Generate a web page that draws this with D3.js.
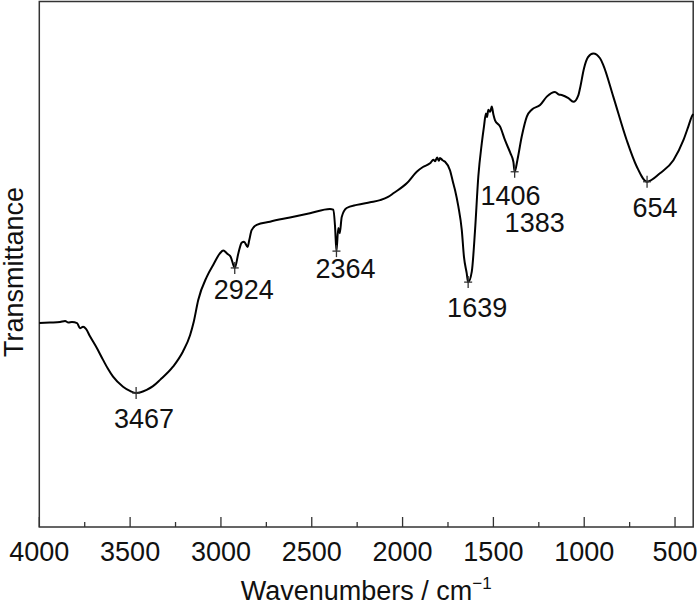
<!DOCTYPE html>
<html lang="en">
<head>
    <meta charset="UTF-8">
    <title>FTIR spectrum</title>
    <script src="https://cdn.jsdelivr.net/npm/d3@7"></script>
    <style>
        body {
            margin: 0;
            background: #fff;
        }

        svg text {
            font-family: "Liberation Sans", Arial, sans-serif;
            fill: #111;
        }

        .tick-label {
            font-size: 27px;
        }

        .peak-label {
            font-size: 27px;
        }

        .axis-title {
            font-size: 27px;
        }

        .frame {
            fill: none;
            stroke: #333;
            stroke-width: 1.5px;
        }

        .spectrum {
            fill: none;
            stroke: #000;
            stroke-width: 2px;
            stroke-linejoin: round;
        }

        .tick,
        .marker {
            stroke: #333;
            stroke-width: 1.3px;
        }
    </style>
</head>
<body>
<script>
    // spectrum (wavenumber / cm-1, transmittance a.u.)
    const wavenumbers = [
        4000, 3941, 3886, 3858, 3840, 3820, 3792, 3776, 3759, 3743, 3721, 3684, 3649, 3622, 3594,
        3539, 3501, 3467, 3409, 3374, 3335, 3264, 3209, 3170, 3150, 3125, 3078, 3042, 3005, 2987,
        2965, 2946, 2924, 2904, 2886, 2873, 2853, 2844, 2831, 2803, 2730, 2620, 2510, 2400, 2381,
        2372, 2364, 2354, 2346, 2335, 2308, 2252, 2179, 2124, 2080, 2051, 1977, 1922, 1888, 1849,
        1830, 1821, 1810, 1800, 1794, 1780, 1766, 1739, 1721, 1711, 1693, 1674, 1662, 1647, 1639,
        1619, 1601, 1583, 1564, 1552, 1541, 1535, 1528, 1518, 1509, 1500, 1491, 1463, 1436, 1406,
        1390, 1383, 1368, 1344, 1316, 1289, 1243, 1206, 1161, 1140, 1124, 1087, 1060, 1032, 1023,
        1001, 979, 950, 913, 895, 840, 766, 711, 654, 583, 509, 454, 427, 408, 400
    ];
    const transmittance = [
        38.8, 38.9, 39.0, 39.2, 38.9, 39.0, 38.8, 37.8, 38.1, 37.7, 36.3, 34.1, 31.8, 30.1, 28.6,
        26.7, 25.9, 25.5, 26.1, 26.8, 28.0, 30.5, 33.4, 36.5, 39.0, 43.2, 47.6, 49.9, 52.1, 52.6,
        52.0, 51.4, 49.3, 52.1, 54.1, 54.3, 53.3, 54.6, 56.5, 57.5, 58.1, 58.9, 59.7, 60.5, 60.4,
        57.3, 52.5, 56.9, 55.9, 59.0, 60.7, 61.3, 61.8, 62.2, 62.8, 63.5, 65.4, 67.6, 68.5, 69.2,
        69.9, 69.6, 70.3, 69.7, 70.2, 69.8, 69.5, 67.9, 65.4, 64.1, 61.0, 56.5, 51.4, 48.3, 46.6,
        48.6, 56.5, 66.7, 73.0, 76.2, 78.7, 78.0, 79.4, 79.0, 80.0, 78.5, 77.4, 76.2, 73.6, 71.1,
        69.5, 67.6, 69.8, 74.3, 78.1, 79.4, 80.3, 81.9, 82.8, 82.3, 82.2, 81.6, 80.9, 82.2, 83.5,
        87.3, 89.4, 90.1, 89.2, 87.9, 81.9, 73.6, 68.6, 65.7, 67.3, 69.8, 73.6, 76.2, 78.1, 78.6
    ];

    // labelled bands
    const peaks = [3467, 2924, 2364, 1639, 1406, 1383, 654];
    const peakMarked = [true, true, true, true, false, true, true];
    // label offset from the band point, px
    const peakLabelOffsets = [[8, 35], [9, 31], [9, 27], [9, 35], [0, 52], [20, 60], [8, 35]];

    const majorTicks = [4000, 3500, 3000, 2500, 2000, 1500, 1000, 500];
    const minorTicks = [3750, 3250, 2750, 2250, 1750, 1250, 750];

    const width = 700;
    const height = 607;
    const margin = { top: 1.5, right: 6.8, bottom: 80, left: 39.3 };

    const svg = d3.select("body").append("svg")
        .attr("width", width)
        .attr("height", height);

    const x = d3.scaleLinear()
        .domain([4000, 400])
        .range([margin.left, width - margin.right]);

    const y = d3.scaleLinear()
        .domain([0, 100])
        .range([height - margin.bottom, margin.top]);

    const data = wavenumbers.map((w, i) => ({ w: w, t: transmittance[i] }));

    // frame
    svg.append("rect")
        .attr("class", "frame")
        .attr("x", x(4000))
        .attr("y", y(100))
        .attr("width", x(400) - x(4000))
        .attr("height", y(0) - y(100));

    // inward ticks on the bottom axis
    const y0 = y(0);
    svg.append("g").selectAll("line.major")
        .data(majorTicks)
        .enter().append("line")
        .attr("class", "tick")
        .attr("x1", d => x(d)).attr("x2", d => x(d))
        .attr("y1", y0).attr("y2", y0 - 10);

    svg.append("g").selectAll("line.minor")
        .data(minorTicks)
        .enter().append("line")
        .attr("class", "tick")
        .attr("x1", d => x(d)).attr("x2", d => x(d))
        .attr("y1", y0).attr("y2", y0 - 5);

    svg.append("g").selectAll("text")
        .data(majorTicks)
        .enter().append("text")
        .attr("class", "tick-label")
        .attr("x", d => x(d))
        .attr("y", y0 + 34)
        .attr("text-anchor", "middle")
        .text(d => d);

    // spectrum
    const line = d3.line()
        .x(d => x(d.w))
        .y(d => y(d.t))
        .curve(d3.curveMonotoneX);

    svg.append("path")
        .datum(data)
        .attr("class", "spectrum")
        .attr("d", line);

    // band markers and labels
    const peakPoints = peaks.map((p, i) => {
        const pt = data.reduce((a, b) => Math.abs(b.w - p) < Math.abs(a.w - p) ? b : a);
        return { w: p, t: pt.t, off: peakLabelOffsets[i], marked: peakMarked[i] };
    });

    const marks = svg.append("g");
    peakPoints.filter(p => p.marked).forEach(p => {
        const px = x(p.w), py = y(p.t);
        marks.append("line").attr("class", "marker")
            .attr("x1", px).attr("x2", px)
            .attr("y1", py - 6).attr("y2", py + 6);
        marks.append("line").attr("class", "marker")
            .attr("x1", px - 4).attr("x2", px + 4)
            .attr("y1", py).attr("y2", py);
    });

    svg.append("g").selectAll("text")
        .data(peakPoints)
        .enter().append("text")
        .attr("class", "peak-label")
        .attr("x", d => x(d.w) + d.off[0])
        .attr("y", d => y(d.t) + d.off[1])
        .attr("text-anchor", "middle")
        .text(d => d.w);

    // axis titles
    const xTitle = svg.append("text")
        .attr("class", "axis-title")
        .attr("x", (x(4000) + x(400)) / 2)
        .attr("y", 600)
        .attr("text-anchor", "middle");
    xTitle.append("tspan").text("Wavenumbers / cm");
    xTitle.append("tspan")
        .attr("dy", -11)
        .style("font-size", "17px")
        .text("\u22121");

    svg.append("text")
        .attr("class", "axis-title")
        .attr("transform", "translate(23,272) rotate(-90)")
        .attr("text-anchor", "middle")
        .text("Transmittance");
</script>
</body>
</html>
